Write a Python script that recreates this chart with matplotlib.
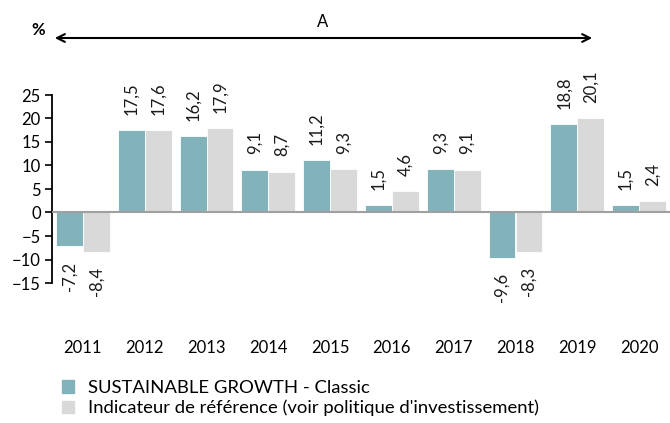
import numpy as np
import matplotlib.pyplot as plt
from matplotlib.patches import Rectangle

years = ["2011", "2012", "2013", "2014", "2015", "2016", "2017", "2018", "2019", "2020"]
fund = [-7.2, 17.5, 16.2, 9.1, 11.2, 1.5, 9.3, -9.6, 18.8, 1.5]
benchmark = [-8.4, 17.6, 17.9, 8.7, 9.3, 4.6, 9.1, -8.3, 20.1, 2.4]
fund_name = "SUSTAINABLE GROWTH - Classic"
bench_name = "Indicateur de référence (voir politique d'investissement)"

teal = "#82B3BA"
grey = "#D9D9D9"

plt.rcParams["font.family"] = ["Lato", "DejaVu Sans"]

fig = plt.figure(figsize=(6.7, 4.23), dpi=100)
ax = fig.add_axes([52 / 670, 140 / 423, 618 / 670, 188 / 423])

x = np.arange(len(years))
w = 0.435
b1 = ax.bar(x - w / 2, fund, w, color=teal, edgecolor="white", linewidth=0.6)
b2 = ax.bar(x + w / 2, benchmark, w, color=grey, edgecolor="white", linewidth=0.6)

# rotated value labels
for bars, vals in ((b1, fund), (b2, benchmark)):
    for bar, v in zip(bars, vals):
        cx = bar.get_x() + bar.get_width() / 2
        txt = f"{v:.1f}".replace(".", ",")
        off = 11 if v >= 0 else -11
        ax.annotate(txt, (cx, v), xytext=(0, off), textcoords="offset points",
                    rotation=90, ha="center", va="bottom" if v >= 0 else "top",
                    fontsize=12, color="#1a1a1a")

ax.axhline(0, color="#A0A0A0", lw=1.5, zorder=3)
ax.set_xlim(-0.5, 9.5)
ax.set_ylim(-15, 25)
ax.set_yticks(range(-15, 26, 5))
ax.set_xticks(x)
ax.set_xticklabels(years)
ax.tick_params(axis="x", length=0, pad=41, labelsize=12)
ax.tick_params(axis="y", direction="out", length=5, width=1.2, labelsize=12, pad=3)
for s in ("top", "right", "bottom"):
    ax.spines[s].set_visible(False)
ax.spines["left"].set_linewidth(1.3)
ax.set_facecolor("none")

# period arrow
fig.text(38 / 670, 1 - 30 / 423, "%", fontsize=12, fontweight="bold", ha="center", va="center")
ax.annotate("", xy=(595 / 670, 1 - 38 / 423), xytext=(52 / 670, 1 - 38 / 423),
            xycoords="figure fraction", textcoords="figure fraction",
            arrowprops=dict(arrowstyle="<->", lw=1.5, color="black", mutation_scale=14))
fig.text(323 / 670, 1 - 22 / 423, "A", fontsize=12, ha="center", va="center")

# legend
ax.legend([Rectangle((0, 0), 1, 1, color=teal), Rectangle((0, 0), 1, 1, color=grey)],
          [fund_name, bench_name], loc="upper left",
          bbox_to_anchor=(62 / 670, 1 - 380 / 423), bbox_transform=fig.transFigure,
          frameon=False, fontsize=13.3, handlelength=0.65, handleheight=0.65,
          handletextpad=0.75, labelspacing=0.2, borderaxespad=0, borderpad=0)

fig.savefig("out.png", dpi=100)
